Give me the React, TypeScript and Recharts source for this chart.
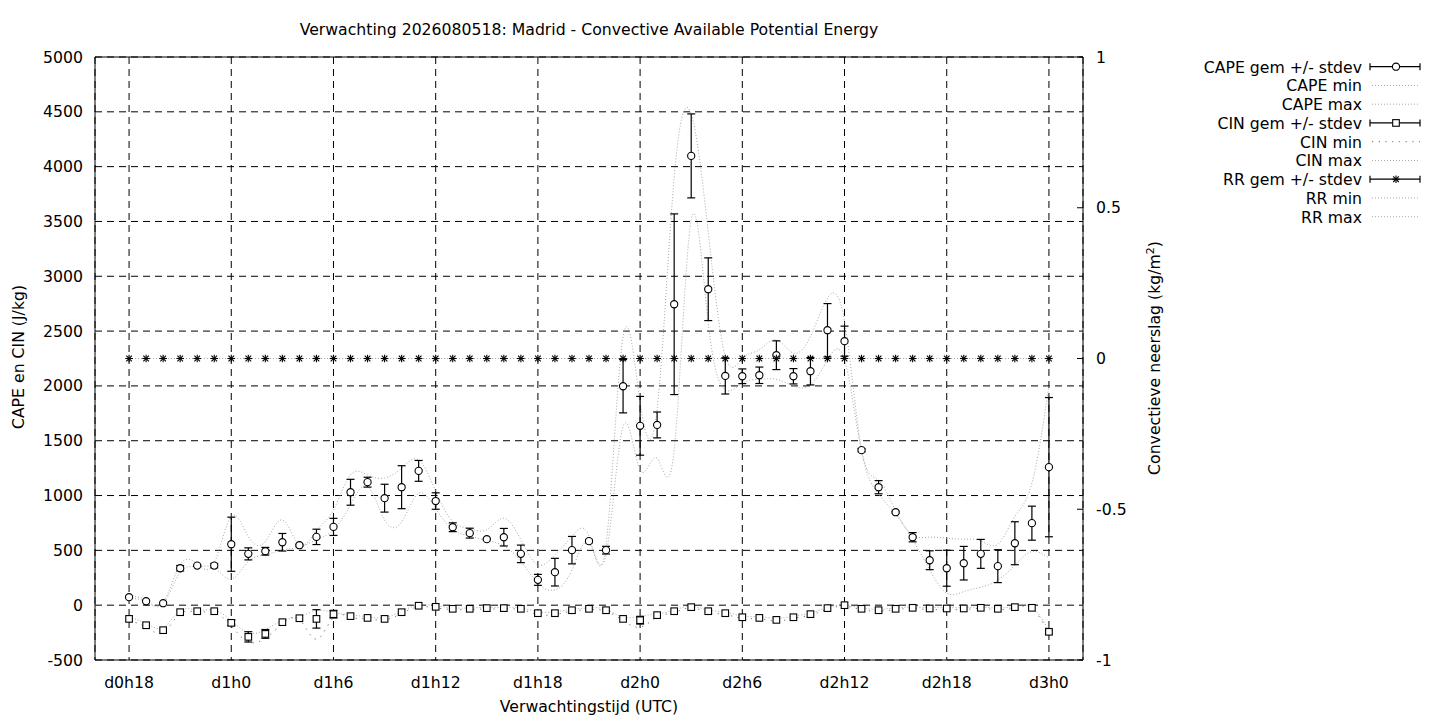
import React from 'react'
import { ComposedChart, Line, XAxis, YAxis, CartesianGrid, ErrorBar, ReferenceLine } from 'recharts'

const FONT = '"DejaVu Sans", sans-serif'
const FS = 15.7

// forecast hours (d0h18 .. d3h0)
const hours = [
  18, 19, 20, 21, 22, 23, 24, 25, 26, 27, 28, 29, 30, 31, 32, 33, 34, 35, 36, 37, 38, 39, 40, 41, 42, 43, 44,
  45, 46, 47, 48, 49, 50, 51, 52, 53, 54, 55, 56, 57, 58, 59, 60, 61, 62, 63, 64, 65, 66, 67, 68, 69, 70, 71,
  72,
]

const capeMean = [
  73, 36, 18, 337, 361, 361, 556, 468, 492, 574, 547, 623, 714, 1030, 1122, 976, 1076, 1225, 950, 711, 657, 602,
  620, 468, 231, 301, 502, 584, 502, 1997, 1636, 1644, 2745, 4098, 2882, 2091, 2088, 2097, 2280, 2088, 2134, 2508,
  2408, 1414, 1076, 848, 620, 410, 337, 383, 468, 356, 565, 748, 1259,
]
const capeSd = [
  0, 0, 0, 25, 5, 20, 247, 55, 35, 80, 8, 70, 78, 118, 45, 127, 196, 95, 75, 40, 45, 5, 80, 80, 50, 126, 125, 15,
  35, 243, 268, 118, 824, 383, 286, 165, 67, 75, 131, 70, 125, 243, 137, 15, 60, 8, 42, 86, 164, 153, 132, 150,
  196, 155, 635,
]
const capeMin = [
  65, 30, 10, 300, 350, 340, 237, 398, 459, 504, 530, 596, 687, 915, 1082, 778, 760, 1021, 880, 690, 630, 590, 540,
  400, 200, 139, 322, 568, 459, 1630, 1234, 1340, 1416, 3514, 2572, 1964, 2025, 2060, 2060, 2000, 2010, 2237, 2240,
  1400, 1010, 830, 600, 322, 109, 124, 164, 228, 365, 489, 429,
]
const capeMax = [
  85, 45, 25, 370, 375, 385, 810, 626, 580, 778, 550, 680, 869, 1188, 1188, 1160, 1250, 1325, 1040, 763, 700, 687,
  793, 596, 368, 459, 626, 626, 550, 2450, 1850, 1790, 3900, 4480, 3400, 2270, 2250, 2330, 2420, 2300, 2450, 2800,
  2590, 1420, 1140, 860, 640, 620, 611, 602, 586, 556, 808, 1113, 2000,
]

const cinMean = [
  -125, -183, -228, -64, -55, -55, -161, -289, -262, -155, -119, -125, -82, -100, -116, -125, -64, -5, -15, -33,
  -33, -27, -27, -33, -73, -73, -46, -33, -46, -125, -137, -91, -55, -18, -55, -73, -110, -116, -134, -110, -82,
  -27, 0, -33, -46, -33, -24, -30, -30, -30, -24, -33, -18, -24, -243,
]
const cinSd = [
  0, 0, 0, 0, 0, 0, 25, 47, 40, 0, 0, 84, 35, 0, 0, 0, 0, 0, 0, 0, 0, 0, 0, 0, 0, 0, 0, 0, 0, 0, 35, 0, 0, 0, 0,
  0, 0, 0, 0, 0, 0, 0, 0, 0, 0, 0, 0, 0, 0, 0, 0, 0, 0, 0, 15,
]
const cinMin = [
  -140, -200, -250, -75, -65, -65, -190, -335, -300, -170, -130, -310, -110, -110, -125, -135, -75, -15, -25, -40,
  -40, -35, -35, -40, -85, -85, -55, -40, -55, -140, -200, -110, -65, -25, -65, -85, -120, -125, -145, -120, -90,
  -35, -10, -40, -55, -40, -30, -40, -40, -40, -30, -40, -25, -30, -255,
]
const cinMax = [
  -110, -165, -205, -50, -45, -45, -140, -250, -225, -140, -105, -50, -65, -90, -105, -115, -55, 0, -5, -25, -25,
  -20, -20, -25, -60, -60, -38, -25, -38, -110, -100, -80, -45, -10, -45, -62, -100, -105, -120, -100, -72, -20, 0,
  -25, -38, -25, -18, -22, -22, -22, -18, -25, -10, -18, -230,
]

// convective precipitation: all members dry
const rrMean = [
  0, 0, 0, 0, 0, 0, 0, 0, 0, 0, 0, 0, 0, 0, 0, 0, 0, 0, 0, 0, 0, 0, 0, 0, 0, 0, 0, 0, 0, 0, 0, 0, 0, 0, 0, 0, 0,
  0, 0, 0, 0, 0, 0, 0, 0, 0, 0, 0, 0, 0, 0, 0, 0, 0, 0,
]
const rrMin = rrMean.slice()
const rrMax = rrMean.slice()

const xTicks = [18, 24, 30, 36, 42, 48, 54, 60, 66, 72]
const xTickLabels = ['d0h18', 'd1h0', 'd1h6', 'd1h12', 'd1h18', 'd2h0', 'd2h6', 'd2h12', 'd2h18', 'd3h0']
const leftTicks = [-500, 0, 500, 1000, 1500, 2000, 2500, 3000, 3500, 4000, 4500, 5000]
const rightTicks = [-1, -0.5, 0, 0.5, 1]

const legendNames = [
  'CAPE gem +/- stdev',
  'CAPE min',
  'CAPE max',
  'CIN gem +/- stdev',
  'CIN min',
  'CIN max',
  'RR gem +/- stdev',
  'RR min',
  'RR max',
]
const legendKinds = ['circle', 'dot', 'dot', 'square', 'sparse', 'dot', 'star', 'dot', 'dot']

const rows = hours.map((h, i) => ({
  h,
  cape: capeMean[i],
  capeSd: capeSd[i],
  capeMin: capeMin[i],
  capeMax: capeMax[i],
  cin: cinMean[i],
  cinSd: cinSd[i],
  cinMin: cinMin[i],
  cinMax: cinMax[i],
  rr: rrMean[i],
  rrMin: rrMin[i],
  rrMax: rrMax[i],
}))

const DOT = { stroke: '#a8a8a8', strokeDasharray: '1 2', strokeWidth: 1 }
const SPARSE = { stroke: '#7a7a7a', strokeDasharray: '1.3 5.4', strokeWidth: 1 }

function Marker({ kind, x, y }: { kind: string; x: number; y: number }) {
  if (kind === 'circle') return <circle cx={x} cy={y} r={3.6} fill="#fff" stroke="#000" strokeWidth={1.1} />
  if (kind === 'square')
    return <rect x={x - 3.3} y={y - 3.3} width={6.6} height={6.6} fill="#fff" stroke="#000" strokeWidth={1.1} />
  return (
    <g stroke="#000" strokeWidth={1.1}>
      <line x1={x - 3.8} x2={x + 3.8} y1={y} y2={y} />
      <line x1={x} x2={x} y1={y - 3.8} y2={y + 3.8} />
      <line x1={x - 2.8} x2={x + 2.8} y1={y - 2.8} y2={y + 2.8} />
      <line x1={x - 2.8} x2={x + 2.8} y1={y + 2.8} y2={y - 2.8} />
    </g>
  )
}

const dotOf = (kind: string) => (p: any) => {
  if (p.cx == null || p.cy == null) return <g key={`${kind}-${p.index}`} />
  return (
    <g key={`${kind}-${p.index}`}>
      <Marker kind={kind} x={p.cx} y={p.cy} />
    </g>
  )
}

const RightTick = (p: any) => (
  <g>
    <line x1={p.x - 13} x2={p.x - 19} y1={p.y} y2={p.y} stroke="#000" />
    <text x={p.x} y={p.y} dy="0.36em" textAnchor="start" fontSize={FS} fontFamily={FONT} fill="#000">
      {String(p.payload.value)}
    </text>
  </g>
)

export default function App() {
  const tickStyle = { fill: '#000', fontSize: FS, fontFamily: FONT }
  const legendTop = 66.7
  const legendStep = 18.75
  return (
    <div style={{ position: 'absolute', left: 0, top: 0, width: 1440, height: 720, background: '#fff' }}>
      <ComposedChart width={1440} height={720} data={rows} margin={{ top: 57, right: 277, bottom: 30, left: 0 }}>
        <CartesianGrid yAxisId="left" stroke="#000" strokeDasharray="7 5" />
        <XAxis
          dataKey="h"
          type="number"
          domain={[16, 74]}
          ticks={xTicks}
          tickFormatter={(v: number) => xTickLabels[xTicks.indexOf(v)]}
          interval={0}
          height={30}
          tickSize={0}
          tickMargin={17}
          tick={tickStyle}
          axisLine={{ stroke: '#000' }}
          allowDataOverflow
        />
        <YAxis
          yAxisId="left"
          domain={[-500, 5000]}
          ticks={leftTicks}
          interval={0}
          width={95}
          tickSize={0}
          tickMargin={12}
          tick={tickStyle}
          axisLine={{ stroke: '#000' }}
          allowDataOverflow
        />
        <YAxis
          yAxisId="right"
          orientation="right"
          domain={[-1, 1]}
          ticks={rightTicks}
          interval={0}
          width={80}
          tickSize={0}
          tickMargin={13}
          tick={RightTick}
          axisLine={{ stroke: '#000' }}
          allowDataOverflow
        />
        <ReferenceLine yAxisId="left" y={5000} stroke="#000" />

        <Line yAxisId="left" type="natural" dataKey="capeMin" {...DOT} dot={false} activeDot={false} isAnimationActive={false} />
        <Line yAxisId="left" type="natural" dataKey="capeMax" {...DOT} dot={false} activeDot={false} isAnimationActive={false} />
        <Line yAxisId="left" type="natural" dataKey="cinMin" {...SPARSE} dot={false} activeDot={false} isAnimationActive={false} />
        <Line yAxisId="left" type="natural" dataKey="cinMax" {...DOT} dot={false} activeDot={false} isAnimationActive={false} />
        <Line yAxisId="right" type="natural" dataKey="rrMin" {...DOT} dot={false} activeDot={false} isAnimationActive={false} />
        <Line yAxisId="right" type="natural" dataKey="rrMax" {...DOT} dot={false} activeDot={false} isAnimationActive={false} />

        <Line yAxisId="left" dataKey="cape" stroke="none" dot={dotOf('circle')} activeDot={false} isAnimationActive={false}>
          <ErrorBar dataKey="capeSd" direction="y" width={4} stroke="#000" strokeWidth={1.2} />
        </Line>
        <Line yAxisId="left" dataKey="cin" stroke="none" dot={dotOf('square')} activeDot={false} isAnimationActive={false}>
          <ErrorBar dataKey="cinSd" direction="y" width={4} stroke="#000" strokeWidth={1.2} />
        </Line>
        <Line yAxisId="right" dataKey="rr" stroke="none" dot={dotOf('star')} activeDot={false} isAnimationActive={false} />
      </ComposedChart>

      <svg
        width={1440}
        height={720}
        style={{ position: 'absolute', left: 0, top: 0, pointerEvents: 'none' }}
        fontFamily={FONT}
        fontSize={FS}
      >
        <text x={589} y={35} textAnchor="middle">
          Verwachting 2026080518: Madrid - Convective Available Potential Energy
        </text>
        <text x={589} y={712} textAnchor="middle">
          Verwachtingstijd (UTC)
        </text>
        <text x={24} y={357} textAnchor="middle" transform="rotate(-90 24 357)">
          CAPE en CIN (J/kg)
        </text>
        <text x={1159.5} y={358} textAnchor="middle" transform="rotate(-90 1159.5 358)">
          Convectieve neerslag (kg/m
          <tspan dy={-6} fontSize={11}>
            2
          </tspan>
          <tspan dy={6}>)</tspan>
        </text>

        {legendNames.map((name, i) => {
          const y = legendTop + i * legendStep
          const kind = legendKinds[i]
          const withBar = kind === 'circle' || kind === 'square' || kind === 'star'
          return (
            <g key={name}>
              <text x={1362} y={y + 6} textAnchor="end">
                {name}
              </text>
              {withBar ? (
                <g stroke="#000" strokeWidth={1.2}>
                  <line x1={1370} x2={1420} y1={y} y2={y} />
                  <line x1={1370} x2={1370} y1={y - 3.5} y2={y + 3.5} />
                  <line x1={1420} x2={1420} y1={y - 3.5} y2={y + 3.5} />
                  <Marker kind={kind} x={1396} y={y} />
                </g>
              ) : (
                <line x1={1372} x2={1420} y1={y} y2={y} {...(kind === 'sparse' ? SPARSE : DOT)} />
              )}
            </g>
          )
        })}
      </svg>
    </div>
  )
}
